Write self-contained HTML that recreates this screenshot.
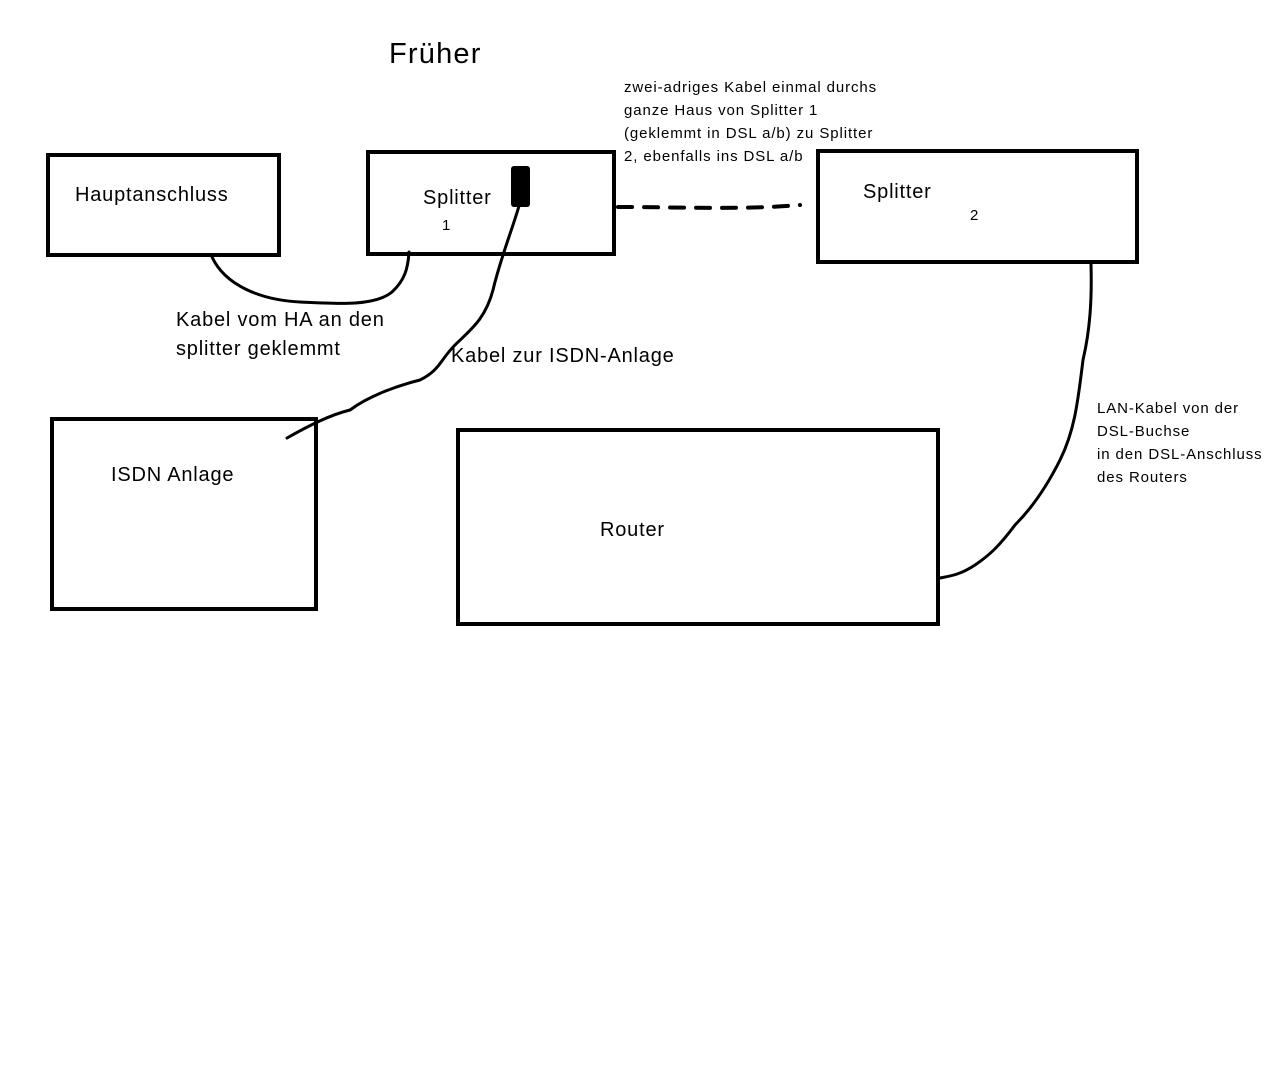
<!DOCTYPE html>
<html><head><meta charset="utf-8"><style>
body{margin:0;background:#fff;width:1266px;height:1076px;overflow:hidden}
svg{position:absolute;left:0;top:0}
.t{position:absolute;font-family:"Liberation Sans",sans-serif;color:#000;white-space:nowrap}
.b{font-size:20px;letter-spacing:0.8px}.s{font-size:15px;line-height:23px;letter-spacing:0.9px}
</style></head><body>
<svg width="1266" height="1076">
<g fill="none" stroke="#000" stroke-width="4">
<rect x="48" y="155" width="231" height="100"/>
<rect x="368" y="152" width="246" height="102"/>
<rect x="818" y="151" width="319" height="111"/>
<rect x="52" y="419" width="264" height="190"/>
<rect x="458" y="430" width="480" height="194"/>
</g>
<g fill="none" stroke="#000" stroke-width="3" stroke-linecap="round">
<path d="M212,257 C225,285 260,300 300,302 C340,304 375,306 392,292 C405,280 408,268 409,252"/>
<path d="M519,206 C512,230 500,260 493,290 C485,320 470,330 455,345 C440,360 440,370 420,380 C400,385 370,395 350,410 C330,415 310,425 287,438"/>
<path d="M1091,264 C1092,300 1090,330 1083,360 C1078,400 1075,430 1060,460 C1045,490 1030,510 1015,525 C1000,545 990,555 975,565 C960,575 950,576 940,578"/>
<path d="M618,207 C680,207 740,210 800,205" stroke-dasharray="14,12" stroke-width="4"/>
</g>
<rect x="511" y="166" width="19" height="41" rx="3" fill="#000"/>
</svg>
<div class="t" style="left:389px;top:38px;font-size:29px;letter-spacing:1.2px">Früher</div>
<div class="t b" style="left:75px;top:184px">Hauptanschluss</div>
<div class="t b" style="left:423px;top:187px">Splitter</div>
<div class="t" style="left:442px;top:217px;font-size:15px">1</div>
<div class="t b" style="left:863px;top:181px">Splitter</div>
<div class="t" style="left:970px;top:207px;font-size:15px">2</div>
<div class="t b" style="left:111px;top:464px">ISDN Anlage</div>
<div class="t b" style="left:600px;top:519px">Router</div>
<div class="t b" style="left:176px;top:306px;line-height:29px">Kabel vom HA an den<br>splitter geklemmt</div>
<div class="t b" style="left:451px;top:345px">Kabel zur ISDN-Anlage</div>
<div class="t s" style="left:624px;top:76px">zwei-adriges Kabel einmal durchs<br>ganze Haus von Splitter 1<br>(geklemmt in DSL a/b) zu Splitter<br>2, ebenfalls ins DSL a/b</div>
<div class="t s" style="left:1097px;top:397px">LAN-Kabel von der<br>DSL-Buchse<br>in den DSL-Anschluss<br>des Routers</div>
</body></html>
